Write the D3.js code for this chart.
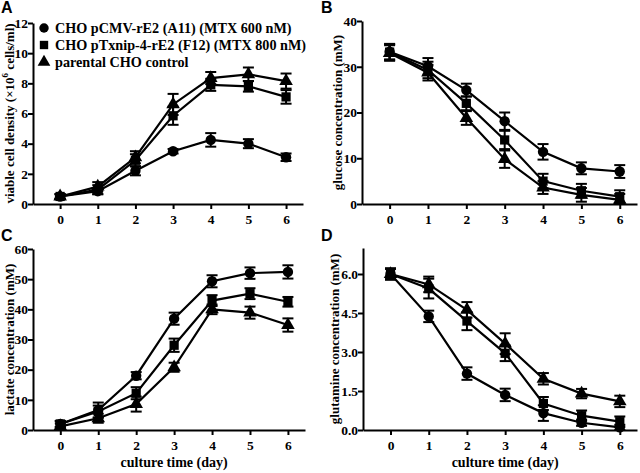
<!DOCTYPE html>
<html><head><meta charset="utf-8">
<script src="https://cdn.jsdelivr.net/npm/d3@7"></script>
<style>body{margin:0;background:#fff}svg{display:block}</style>
</head><body>
<svg id="c" width="640" height="473"></svg>
<script>
const days = [0,1,2,3,4,5,6];
const seriesNames = ["CHO pCMV-rE2 (A11) (MTX 600 nM)","CHO pTxnip-4-rE2 (F12) (MTX 800 nM)","parental CHO control"];
// A: viable cell density
const vcdCircle = [0.5,0.85,2.2,3.5,4.25,4.0,3.1];
const vcdCircleErr = [0.15,0.2,0.3,0.15,0.45,0.3,0.25];
const vcdSquare = [0.5,0.95,2.9,5.85,7.9,7.8,7.1];
const vcdSquareErr = [0.15,0.3,0.4,0.6,0.4,0.35,0.45];
const vcdTriangle = [0.5,1.15,3.1,6.6,8.35,8.6,8.15];
const vcdTriangleErr = [0.15,0.3,0.4,0.7,0.4,0.45,0.5];
// B: glucose
const gluCircle = [33.3,30.1,24.9,18.1,11.4,7.8,7.1];
const gluCircleErr = [1.7,1.8,1.4,1.9,1.7,1.3,1.4];
const gluSquare = [33.2,29.3,22.0,14.0,5.0,2.9,1.6];
const gluSquareErr = [1.7,1.8,1.5,2.0,1.6,1.5,1.4];
const gluTriangle = [33.0,28.7,18.8,9.8,3.6,2.0,0.9];
const gluTriangleErr = [1.7,1.7,1.5,1.9,1.4,1.5,1.3];
// C: lactate
const lacCircle = [2.0,6.6,18.0,36.9,49.3,52.0,52.4];
const lacCircleErr = [1.0,2.5,1.2,2.0,2.0,1.9,2.2];
const lacSquare = [2.0,6.1,12.2,28.1,42.9,45.2,42.5];
const lacSquareErr = [1.0,2.0,2.0,2.2,1.8,1.8,1.6];
const lacTriangle = [1.2,3.9,8.6,20.8,40.0,38.9,34.8];
const lacTriangleErr = [1.0,1.5,2.5,1.5,1.6,2.0,2.2];
// D: glutamine
const glnCircle = [6.0,4.37,2.17,1.35,0.65,0.28,0.1];
const glnCircleErr = [0.2,0.22,0.24,0.24,0.3,0.12,0.1];
const glnSquare = [6.0,5.44,4.19,2.95,1.02,0.55,0.32];
const glnSquareErr = [0.22,0.38,0.35,0.3,0.25,0.2,0.2];
const glnTriangle = [6.0,5.6,4.62,3.32,1.97,1.4,1.1];
const glnTriangleErr = [0.2,0.3,0.3,0.4,0.22,0.18,0.22];

const yTicksA = [0,2,4,6,8,10,12];
const yTicksB = [0,10,20,30,40];
const yTicksC = [0,10,20,30,40,50,60];
const yTicksD = [0,1.5,3.0,4.5,6.0];
const xLabel = "culture time (day)";

const svg = d3.select("#c");
const serif = "'Liberation Serif','Times New Roman',serif";
const sans = "'Liberation Sans',Arial,sans-serif";
const symbols = [d3.symbolCircle, d3.symbolSquare, d3.symbolTriangle];
const symSizes = [85, 85, 80];

const panels = [
  {letter:"A", lx:1, ly:13, x0:33, x1:303, yTop:23, yBot:204, ymax:12, ticks:yTicksA, fmt:d3.format("d"),
   ylabel:"viable cell density", sup:true, ylx:14,
   data:[[vcdCircle,vcdCircleErr],[vcdSquare,vcdSquareErr],[vcdTriangle,vcdTriangleErr]], xtitle:false, legend:true},
  {letter:"B", lx:321, ly:13, x0:362, x1:637, yTop:21, yBot:204, ymax:40, ticks:yTicksB, fmt:d3.format("d"),
   ylabel:"glucose concentration (mM)", ylx:342,
   data:[[gluCircle,gluCircleErr],[gluSquare,gluSquareErr],[gluTriangle,gluTriangleErr]], xtitle:false},
  {letter:"C", lx:1, ly:241, x0:33, x1:305, yTop:249, yBot:430, ymax:60, ticks:yTicksC, fmt:d3.format("d"),
   ylabel:"lactate concentration (mM)", ylx:14,
   data:[[lacCircle,lacCircleErr],[lacSquare,lacSquareErr],[lacTriangle,lacTriangleErr]], xtitle:true},
  {letter:"D", lx:321, ly:241, x0:363, x1:637, yTop:248, yBot:430, ymax:7, ticks:yTicksD, fmt:d3.format(".1f"),
   ylabel:"glutamine concentration (mM)", ylx:339,
   data:[[glnCircle,glnCircleErr],[glnSquare,glnSquareErr],[glnTriangle,glnTriangleErr]], xtitle:true}
];

panels.forEach(p => {
  const g = svg.append("g");
  const x = d3.scaleLinear().domain([-0.72, 6.45]).range([p.x0, p.x1]);
  const y = d3.scaleLinear().domain([0, p.ymax]).range([p.yBot, p.yTop]);

  g.append("text").attr("x", p.lx).attr("y", p.ly).text(p.letter)
    .attr("font-family", sans).attr("font-weight", "bold").attr("font-size", 16);

  const xa = g.append("g").attr("transform", `translate(0,${p.yBot})`)
    .call(d3.axisBottom(x).tickValues(days).tickSize(5).tickSizeOuter(0).tickFormat(d3.format("d")));
  const ya = g.append("g").attr("transform", `translate(${p.x0},0)`)
    .call(d3.axisLeft(y).tickValues(p.ticks).tickSize(5).tickSizeOuter(0).tickFormat(p.fmt));
  [xa, ya].forEach(a => {
    a.select(".domain").attr("stroke", "#000").attr("stroke-width", 2);
    a.selectAll(".tick line").attr("stroke", "#000").attr("stroke-width", 2);
    a.selectAll("text").attr("font-family", serif).attr("font-weight", "bold")
      .attr("font-size", 13.5).attr("fill", "#000");
  });
  xa.selectAll("text").attr("dy", "0.95em").attr("y", 7);
  ya.selectAll("text").attr("x", -5);

  const yl = g.append("text")
    .attr("transform", `translate(${p.ylx},${(p.yTop + p.yBot) / 2}) rotate(-90)`)
    .attr("text-anchor", "middle").attr("font-family", serif).attr("font-weight", "bold")
    .attr("font-size", 13).attr("fill", "#000");
  if (p.sup) {
    yl.append("tspan").text("viable cell density (×10");
    yl.append("tspan").text("6").attr("font-size", 9).attr("dy", -6);
    yl.append("tspan").text(" cells/ml)").attr("dy", 6);
  } else yl.text(p.ylabel);

  if (p.xtitle) {
    g.append("text").attr("x", x(3)).attr("y", 467).attr("text-anchor", "middle")
      .attr("font-family", serif).attr("font-weight", "bold").attr("font-size", 14).text(xLabel);
  }

  const line = d3.line().x((d, i) => x(days[i])).y(d => y(d));
  p.data.forEach((s, si) => {
    const [vals, errs] = s;
    const sg = g.append("g");
    sg.append("path").attr("d", line(vals)).attr("fill", "none").attr("stroke", "#000").attr("stroke-width", 2.2);
    vals.forEach((v, i) => {
      const cx = x(days[i]);
      const lo = y(Math.max(0, v - errs[i])), hi = y(v + errs[i]);
      sg.append("line").attr("x1", cx).attr("x2", cx).attr("y1", lo).attr("y2", hi).attr("stroke", "#000").attr("stroke-width", 2);
      [lo, hi].forEach(yy => sg.append("line").attr("x1", cx - 5.5).attr("x2", cx + 5.5)
        .attr("y1", yy).attr("y2", yy).attr("stroke", "#000").attr("stroke-width", 2));
      sg.append("path").attr("d", d3.symbol().type(symbols[si]).size(symSizes[si])())
        .attr("transform", `translate(${cx},${y(v)})`).attr("fill", "#000");
    });
  });

  if (p.legend) {
    seriesNames.forEach((n, i) => {
      const ly = 28 + i * 17;
      g.append("path").attr("d", d3.symbol().type(symbols[i]).size(70)())
        .attr("transform", `translate(44,${ly})`).attr("fill", "#000");
      g.append("text").attr("x", 55).attr("y", ly + 5).text(n)
        .attr("font-family", serif).attr("font-weight", "bold").attr("font-size", 14.2).attr("fill", "#000");
    });
  }
});
</script>
</body></html>
